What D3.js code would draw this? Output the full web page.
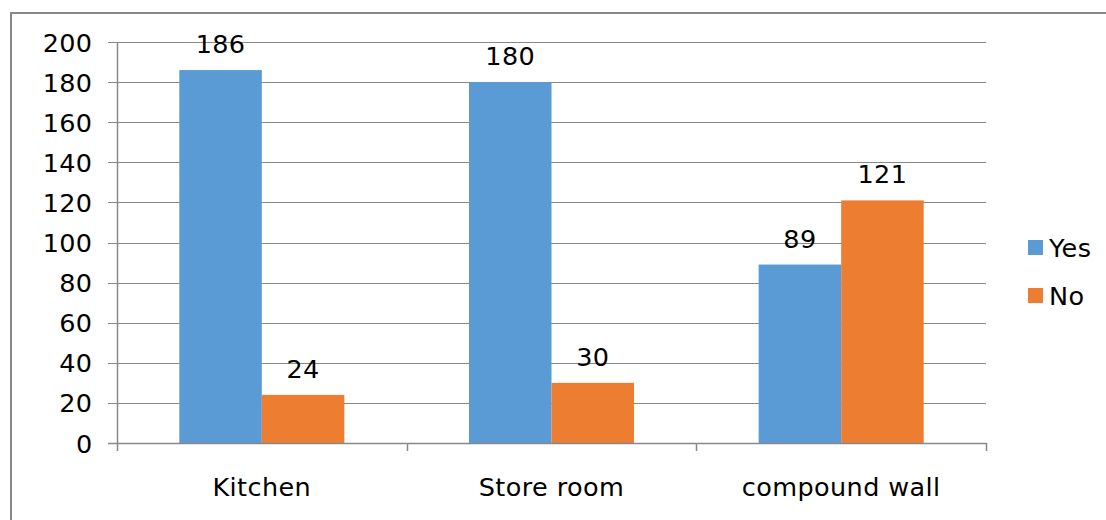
<!DOCTYPE html>
<html>
<head>
<meta charset="utf-8">
<script src="https://cdn.jsdelivr.net/npm/d3@7/dist/d3.min.js"></script>
<style>
  html, body { margin: 0; padding: 0; background: #fff; }
  svg { display: block; font-family: "DejaVu Sans", Verdana, sans-serif; }
</style>
</head>
<body>
<svg id="chart" width="1106" height="520"></svg>
<script>
// Facilities survey: Yes / No counts per category
const categories = ["Kitchen", "Store room", "compound wall"];
const seriesNames = ["Yes", "No"];
const yesValues = [186, 180, 89];
const noValues = [24, 30, 121];
const yTicks = [0, 20, 40, 60, 80, 100, 120, 140, 160, 180, 200];

const colors = { Yes: "#5B9BD5", No: "#ED7D31" };
const axisGray = "#898989";
const fontSize = 25.5;

const svg = d3.select("#chart");

// outer frame
svg.append("rect")
  .attr("x", 11).attr("y", 13)
  .attr("width", 1110).attr("height", 520)
  .attr("fill", "none")
  .attr("stroke", "#888")
  .attr("stroke-width", 2);

const plot = { left: 117, right: 986, top: 42, bottom: 443 };

const x = d3.scaleBand()
  .domain(categories)
  .range([plot.left, plot.right])
  .paddingInner(0).paddingOuter(0);

const xInner = d3.scaleBand()
  .domain(seriesNames)
  .range([0, x.bandwidth()])
  .paddingInner(0)
  .paddingOuter(0.755);

const y = d3.scaleLinear()
  .domain([0, 200])
  .range([plot.bottom, plot.top]);

// gridlines with left tick marks
svg.append("g")
  .selectAll("line")
  .data(yTicks.filter(t => t > 0))
  .join("line")
  .attr("x1", plot.left - 9)
  .attr("x2", plot.right)
  .attr("y1", d => Math.round(y(d)) + 0.5)
  .attr("y2", d => Math.round(y(d)) + 0.5)
  .attr("stroke", axisGray)
  .attr("stroke-width", 1);

// y tick labels
svg.append("g")
  .selectAll("text")
  .data(yTicks)
  .join("text")
  .attr("x", 92.5)
  .attr("y", d => y(d) + 9.5)
  .attr("text-anchor", "end")
  .attr("font-size", fontSize)
  .attr("letter-spacing", 0.4)
  .attr("fill", "#000")
  .text(d => d);

// y axis line
svg.append("line")
  .attr("x1", plot.left + 0.5).attr("x2", plot.left + 0.5)
  .attr("y1", plot.top).attr("y2", plot.bottom)
  .attr("stroke", axisGray).attr("stroke-width", 1.5);

// bars
const rows = categories.map((c, i) => ({
  category: c,
  values: [
    { key: "Yes", value: yesValues[i] },
    { key: "No", value: noValues[i] }
  ]
}));

const groups = svg.append("g")
  .selectAll("g")
  .data(rows)
  .join("g")
  .attr("transform", d => `translate(${x(d.category)},0)`);

groups.selectAll("rect")
  .data(d => d.values)
  .join("rect")
  .attr("x", d => xInner(d.key))
  .attr("width", xInner.bandwidth())
  .attr("y", d => y(d.value))
  .attr("height", d => y(0) - y(d.value))
  .attr("fill", d => colors[d.key]);

groups.selectAll("text")
  .data(d => d.values)
  .join("text")
  .attr("x", d => xInner(d.key) + xInner.bandwidth() / 2)
  .attr("y", d => y(d.value) - 17)
  .attr("text-anchor", "middle")
  .attr("font-size", fontSize)
  .attr("letter-spacing", 0.4)
  .attr("fill", "#000")
  .text(d => d.value);

// x axis line and boundary ticks
svg.append("line")
  .attr("x1", plot.left - 9).attr("x2", plot.right)
  .attr("y1", plot.bottom + 0.5).attr("y2", plot.bottom + 0.5)
  .attr("stroke", axisGray).attr("stroke-width", 1.5);

const boundaries = categories.map(c => x(c)).concat([x(categories[categories.length - 1]) + x.bandwidth()]);
svg.append("g")
  .selectAll("line")
  .data(boundaries)
  .join("line")
  .attr("x1", d => Math.round(d) + 0.5)
  .attr("x2", d => Math.round(d) + 0.5)
  .attr("y1", plot.bottom)
  .attr("y2", plot.bottom + 8)
  .attr("stroke", axisGray).attr("stroke-width", 1.5);

// category labels
svg.append("g")
  .selectAll("text")
  .data(categories)
  .join("text")
  .attr("x", d => x(d) + x.bandwidth() / 2)
  .attr("y", 496)
  .attr("text-anchor", "middle")
  .attr("font-size", fontSize)
  .attr("letter-spacing", 0.4)
  .attr("fill", "#000")
  .text(d => d);

// legend
const legend = svg.append("g")
  .selectAll("g")
  .data(seriesNames)
  .join("g")
  .attr("transform", (d, i) => `translate(1028,${240 + i * 48})`);

legend.append("rect")
  .attr("width", 15).attr("height", 15)
  .attr("fill", d => colors[d]);

legend.append("text")
  .attr("x", 21)
  .attr("y", 16.5)
  .attr("font-size", fontSize)
  .attr("letter-spacing", 0.4)
  .attr("fill", "#000")
  .text(d => d);
</script>
</body>
</html>
